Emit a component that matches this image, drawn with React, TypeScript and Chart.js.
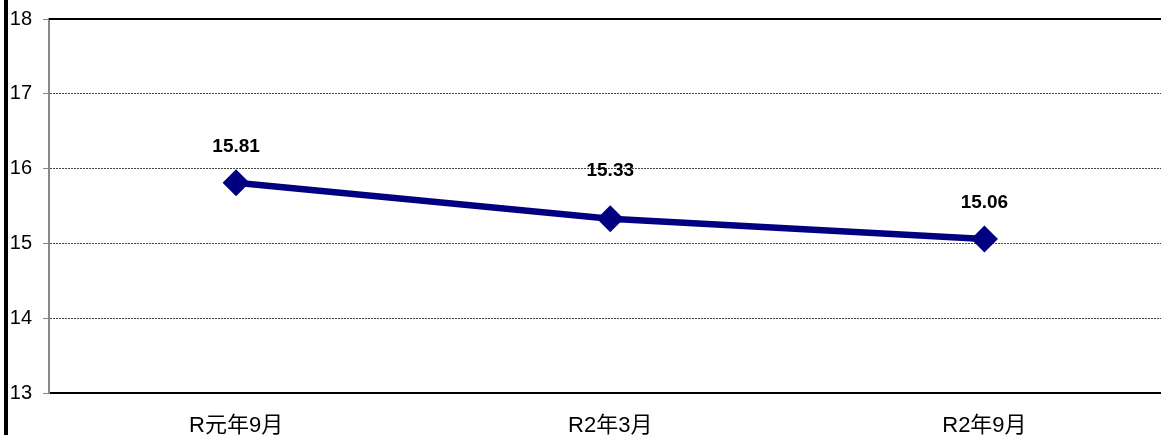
import React, { useEffect, useRef } from "react";
import { Chart, registerables } from "chart.js";

Chart.register(...registerables);

const categories = ["R元年9月", "R2年3月", "R2年9月"];
const values = [15.81, 15.33, 15.06];
const yMin = 13;
const yMax = 18;

const LABEL_OFFSETS = [36, 48, 36];
const FONT = '"Liberation Sans", "Noto Sans CJK JP", sans-serif';

const topBorderPlugin = {
  id: "topBorder",
  afterDraw(chart: any) {
    const { ctx, chartArea } = chart;
    ctx.save();
    ctx.strokeStyle = "#000";
    ctx.lineWidth = 2;
    ctx.beginPath();
    ctx.moveTo(chartArea.left, chartArea.top);
    ctx.lineTo(chartArea.right, chartArea.top);
    ctx.stroke();
    ctx.restore();
  },
};

const valueLabelPlugin = {
  id: "valueLabels",
  afterDatasetsDraw(chart: any) {
    const { ctx } = chart;
    const meta = chart.getDatasetMeta(0);
    ctx.save();
    ctx.font = `bold 19px ${FONT}`;
    ctx.fillStyle = "#000";
    ctx.textAlign = "center";
    ctx.textBaseline = "middle";
    meta.data.forEach((pt: any, i: number) => {
      const v = chart.data.datasets[0].data[i] as number;
      ctx.fillText(v.toFixed(2), pt.x, pt.y - LABEL_OFFSETS[i]);
    });
    ctx.restore();
  },
};

export default function App() {
  const ref = useRef<HTMLCanvasElement | null>(null);
  useEffect(() => {
    if (!ref.current) return;
    const chart = new Chart(ref.current, {
      type: "line",
      data: {
        labels: categories,
        datasets: [
          {
            data: values,
            borderColor: "#000080",
            backgroundColor: "#000080",
            borderWidth: 6.5,
            pointStyle: "rectRot",
            pointRadius: 13.5,
            pointHoverRadius: 13.5,
            pointBorderWidth: 0,
            tension: 0,
          },
        ],
      },
      options: {
        animation: false,
        responsive: false,
        devicePixelRatio: 1,
        layout: { padding: { top: 19, right: 0, left: 0, bottom: 0 } },
        plugins: { legend: { display: false }, tooltip: { enabled: false } },
        scales: {
          x: {
            offset: true,
            grid: { display: false },
            border: { display: true, color: "#000", width: 2 },
            ticks: {
              color: "#000",
              font: { size: 22, family: FONT },
              padding: 12,
            },
            afterFit(scale: any) {
              scale.height = 42;
              scale.paddingLeft = 0;
              scale.paddingRight = 0;
            },
          },
          y: {
            min: yMin,
            max: yMax,
            ticks: {
              stepSize: 1,
              color: "#000",
              font: { size: 20, family: FONT },
              padding: 11,
            },
            grid: {
              color: "#444",
              lineWidth: 1,
              tickLength: 6,
              tickColor: "#888",
              tickWidth: 1,
              tickBorderDash: [],
            },
            border: { display: true, color: "#888", width: 2, dash: [2, 1] },
            afterFit(scale: any) {
              scale.width = 49;
              scale.paddingTop = 0;
              scale.paddingBottom = 0;
            },
          },
        },
      },
      plugins: [topBorderPlugin, valueLabelPlugin],
    });
    return () => chart.destroy();
  }, []);

  return (
    <div
      style={{
        position: "fixed",
        left: 0,
        top: 0,
        width: 1161,
        height: 435,
        overflow: "hidden",
        background: "#fff",
      }}
    >
      <canvas
        ref={ref}
        width={1185}
        height={435}
        style={{ position: "absolute", left: 0, top: 0, width: 1185, height: 435 }}
      />
      <div
        style={{
          position: "absolute",
          left: 4,
          top: 0,
          width: 4,
          height: 435,
          background: "#000",
        }}
      />
    </div>
  );
}
